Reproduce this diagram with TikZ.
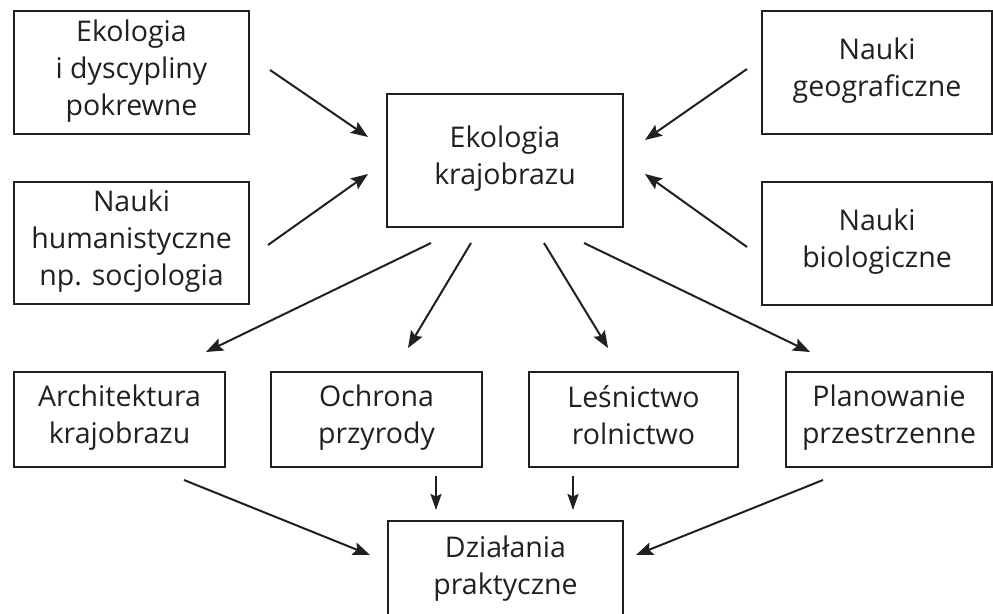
\documentclass[tikz,border=0pt]{standalone}
\usepackage{fontspec}
\setmainfont{Open Sans}
\usetikzlibrary{arrows.meta}
\definecolor{ink}{HTML}{231F20}
\newcommand\topstrut{\rule{0pt}{30pt}}
\newcommand\botstrut{\rule[-9.7pt]{0pt}{9.7pt}}
\begin{document}
\begin{tikzpicture}[x=1pt,y=-1pt,
  box/.style={draw=ink, line width=1.3pt, align=center, inner sep=0pt, text=ink,
    font=\fontsize{28.5}{37}\selectfont,
    execute at begin node=\topstrut, execute at end node=\botstrut},
  arr/.style={draw=ink, line width=2pt, -{Stealth[length=17pt,width=13pt,inset=3pt]}},
  sarr/.style={draw=ink, line width=2pt, -{Stealth[length=16pt,width=11pt,inset=2.5pt]}}]
\useasboundingbox (0,0) rectangle (993,613);
% top-left boxes
\node[box, minimum width=235pt, minimum height=123pt] (eko) at (131.5,72.5) {Ekologia\\i dyscypliny\\pokrewne};
\node[box, minimum width=235pt, minimum height=122pt] (hum) at (131.5,243) {Nauki\\humanistyczne\\np. socjologia};
% top-right boxes
\node[box, minimum width=230pt, minimum height=123pt] (geo) at (877,72.5) {Nauki\\geograficzne};
\node[box, minimum width=230pt, minimum height=123pt] (bio) at (877,243.5) {Nauki\\biologiczne};
% center
\node[box, minimum width=236pt, minimum height=133pt] (kra) at (505,160.5) {Ekologia\\krajobrazu};
% bottom row
\node[box, minimum width=211pt, minimum height=95pt] (arc) at (119.5,419.5) {Architektura\\krajobrazu};
\node[box, minimum width=211pt, minimum height=95pt] (och) at (376.5,419.5) {Ochrona\\przyrody};
\node[box, minimum width=209pt, minimum height=95pt] (les) at (633.5,419.5) {Leśnictwo\\rolnictwo};
\node[box, minimum width=206pt, minimum height=95pt] (pla) at (889,419.5) {Planowanie\\przestrzenne};
% bottom
\node[box, minimum width=235pt, minimum height=98pt] (dzi) at (505.5,570) {Działania\\praktyczne};
% arrow end points
\coordinate (a1s) at (270,70);  \coordinate (a1e) at (368,137);
\coordinate (a2s) at (268,245); \coordinate (a2e) at (368,174);
\coordinate (a3s) at (747,69);  \coordinate (a3e) at (645,140);
\coordinate (a4s) at (747,247); \coordinate (a4e) at (645,174);
\coordinate (b1s) at (431,243); \coordinate (b1e) at (206,352);
\coordinate (b2s) at (471,243); \coordinate (b2e) at (408,348);
\coordinate (b3s) at (544,243); \coordinate (b3e) at (608,348);
\coordinate (b4s) at (584,243); \coordinate (b4e) at (810,352);
\coordinate (c1s) at (184,480); \coordinate (c1e) at (370,555);
\coordinate (c2s) at (436,476); \coordinate (c2e) at (436,510);
\coordinate (c3s) at (573,476); \coordinate (c3e) at (573,510);
\coordinate (c4s) at (823,480); \coordinate (c4e) at (636,555);
% arrows
\draw[arr] (a1s) -- (a1e);
\draw[arr] (a2s) -- (a2e);
\draw[arr] (a3s) -- (a3e);
\draw[arr] (a4s) -- (a4e);
\draw[arr] (b1s) -- (b1e);
\draw[arr] (b2s) -- (b2e);
\draw[arr] (b3s) -- (b3e);
\draw[arr] (b4s) -- (b4e);
\draw[arr] (c1s) -- (c1e);
\draw[sarr] (c2s) -- (c2e);
\draw[sarr] (c3s) -- (c3e);
\draw[arr] (c4s) -- (c4e);
\end{tikzpicture}
\end{document}
